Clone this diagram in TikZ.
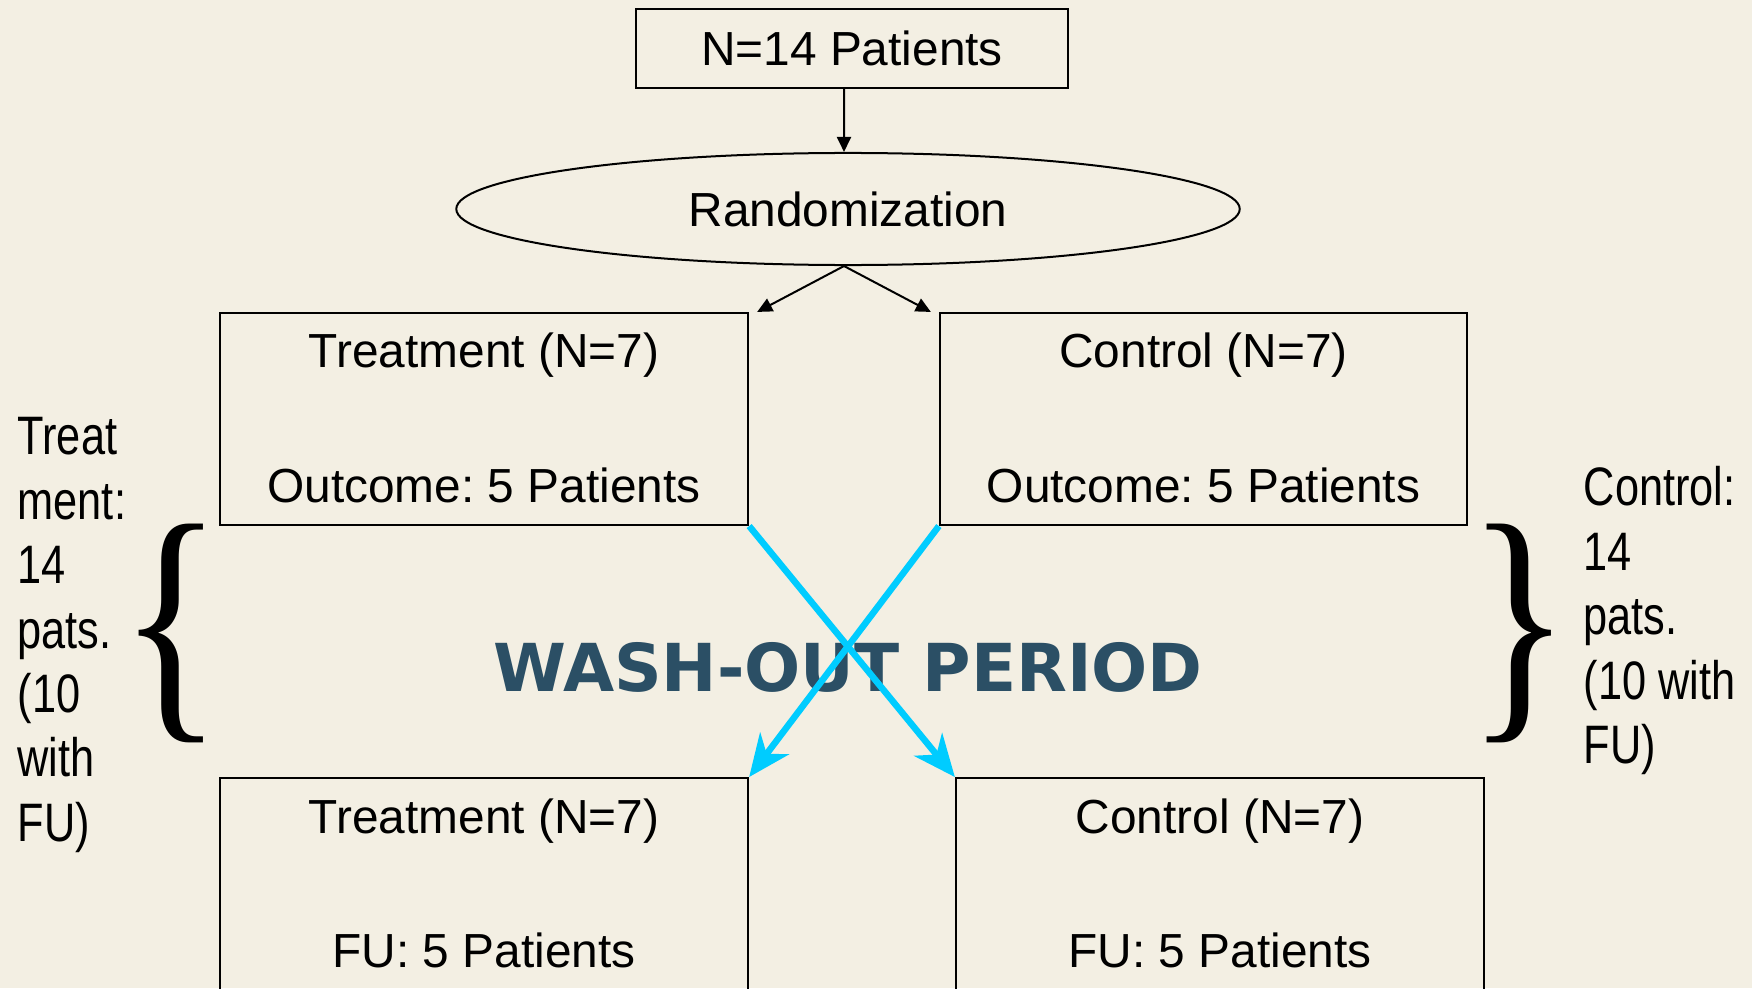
\documentclass[tikz,border=0pt]{standalone}
\usepackage{fontspec}
\setmainfont{Liberation Sans}
\newfontfamily\narrowfont[FakeStretch=0.8]{Liberation Sans}
\newfontfamily\washfont{DejaVu Sans}
\newfontfamily\bracefont{Liberation Serif}
\usepackage{tikz}
\usetikzlibrary{arrows.meta,positioning,shapes.geometric}
\definecolor{paper}{RGB}{243,239,227}
\definecolor{washblue}{RGB}{43,79,101}
\definecolor{crossblue}{RGB}{0,204,255}
\frenchspacing

\begin{document}
\begin{tikzpicture}[x=0.01cm,y=-0.01cm,every node/.style={font=\fontsize{13.6}{16}\selectfont},
  box/.style={draw,line width=0.02cm,inner sep=0pt},
  arrow/.style={line width=0.02cm,-{Triangle[length=0.15cm,width=0.14cm]}},
  cross/.style={crossblue,line width=0.065cm,-{Stealth[length=0.42cm,width=0.36cm,inset=0.13cm]}},
  side/.style={font=\narrowfont\fontsize{15.4}{18.3}\selectfont,align=left,inner sep=0pt},
  curly/.style={inner sep=0pt,font=\bracefont\fontsize{73}{73}\selectfont}]
\useasboundingbox[fill=paper] (0,0) rectangle (1752,988);
\clip (0,0) rectangle (1752,988);
\node[box,minimum width=4.32cm,minimum height=0.79cm] (pts) at (852,48.5) {N=14 Patients};
\node[draw,ellipse,line width=0.02cm,inner sep=0pt,minimum width=7.83cm,minimum height=1.12cm] (rand) at (848,209) {Randomization};
% first period
\node[box,minimum width=5.28cm,minimum height=2.12cm] (trtA) at (484,419) {};
\node[box,minimum width=5.27cm,minimum height=2.12cm] (ctlA) at (1203.5,419) {};
\node[below=0.56cm of trtA.north,anchor=base] (trtAhead) {Treatment (N=7)};
\node[below=1.9cm of trtA.north,anchor=base] (trtAout) {Outcome: 5 Patients};
\node[below=0.56cm of ctlA.north,anchor=base] (ctlAhead) {Control (N=7)};
\node[below=1.9cm of ctlA.north,anchor=base] (ctlAout) {Outcome: 5 Patients};
% second period
\node[box,minimum width=5.28cm,minimum height=3cm,anchor=north] (trtB) at (484,777) {};
\node[box,minimum width=5.28cm,minimum height=3cm,anchor=north] (ctlB) at (1220,777) {};
\node[below=0.56cm of trtB.north,anchor=base] (trtBhead) {Treatment (N=7)};
\node[below=1.9cm of trtB.north,anchor=base] (trtBfu) {FU: 5 Patients};
\node[below=0.56cm of ctlB.north,anchor=base] (ctlBhead) {Control (N=7)};
\node[below=1.9cm of ctlB.north,anchor=base] (ctlBfu) {FU: 5 Patients};
\draw[arrow] ([xshift=-0.08cm]pts.south) -- ([xshift=-0.04cm]rand.north);
\draw[arrow] ([xshift=-0.04cm]rand.south) -- ([xshift=0.08cm]trtA.north east);
\draw[arrow] ([xshift=-0.04cm]rand.south) -- ([xshift=-0.08cm]ctlA.north west);
\node[font=\washfont\bfseries\fontsize{18.8}{22}\selectfont,text=washblue,anchor=base] (wash) at (848,691) {WASH-OUT PERIOD};
\draw[cross] (trtA.south east) -- (ctlB.north west);
\draw[cross] (ctlA.south west) -- (trtB.north east);
% totals per arm
\node[curly] (lbrace) at (171,633) {\scalebox{0.84}[1.03]{\{}};
\node[curly] (rbrace) at (1519,633) {\scalebox{0.84}[1.03]{\}}};
\node[side,anchor=north west] (trtnote) at (17,417) {Treat\\ment:\\14\\pats.\\(10\\with\\FU)};
\node[side,anchor=north west] (ctlnote) at (1583,466) {Control:\\14\\pats.\\(10 with\\FU)};
\end{tikzpicture}
\end{document}
